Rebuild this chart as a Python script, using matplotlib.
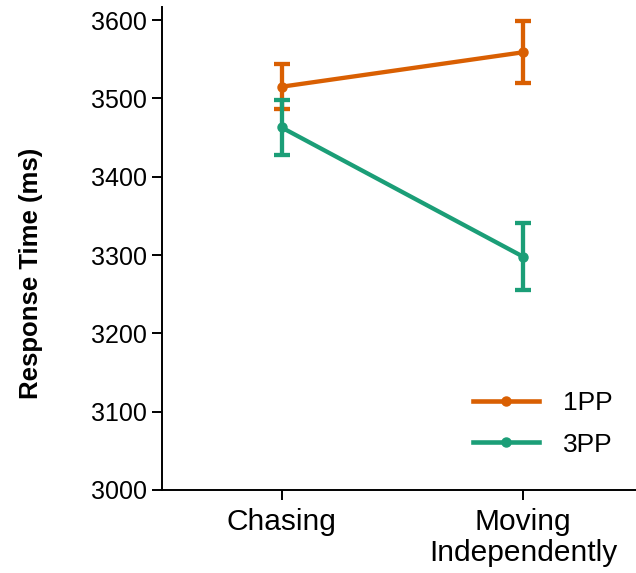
import matplotlib
matplotlib.use("Agg")
import matplotlib.pyplot as plt
from matplotlib.lines import Line2D
import numpy as np

plt.rcParams['font.family'] = ['Liberation Sans', 'DejaVu Sans']

conditions = ["Chasing", "Moving\nIndependently"]
groups = ["1PP", "3PP"]
means = {
    "1PP": [3515, 3559],
    "3PP": [3463, 3298],
}
errors = {
    "1PP": [29, 39.5],
    "3PP": [35.5, 42.5],
}
colors = {"1PP": "#d95f02", "3PP": "#1b9e77"}
yticks = [3000, 3100, 3200, 3300, 3400, 3500, 3600]

fig = plt.figure(figsize=(6.36, 5.73), dpi=100)
ax = fig.add_axes([0.254, 0.145, 0.746, 0.843])

x = np.arange(len(conditions))
handles = []
for g in groups:
    ax.errorbar(x, means[g], yerr=errors[g], color=colors[g], lw=3.1,
                marker="o", markersize=6.5, capsize=6, capthick=3.1,
                elinewidth=3.1)
    handles.append(Line2D([], [], color=colors[g], lw=3.3, marker="o",
                          markersize=6.5, label=g))

ax.set_xlim(-0.497, 1.468)
ax.set_ylim(3000, 3617)
ax.set_yticks(yticks)
ax.set_xticks(x)
ax.set_xticklabels(conditions, fontsize=21.5, linespacing=1.15)
ax.tick_params(axis="y", labelsize=18, length=7, width=1.4)
ax.tick_params(axis="x", length=7, width=1.4, pad=6)
for s in ["top", "right"]:
    ax.spines[s].set_visible(False)
for s in ["left", "bottom"]:
    ax.spines[s].set_linewidth(1.4)

ax.set_ylabel("Response Time (ms)", fontsize=18.5, fontweight="bold")
ax.yaxis.set_label_coords(-0.25, 0.449)

ax.legend(handles=handles, loc="lower right", frameon=False, fontsize=19,
          handlelength=2.5, handletextpad=0.9, labelspacing=0.65,
          bbox_to_anchor=(1.0, 0.02))

fig.savefig("out.png", dpi=100)
